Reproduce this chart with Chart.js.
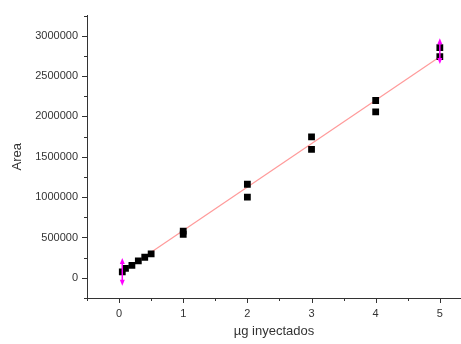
<!DOCTYPE html>
<html>
<head>
<meta charset="utf-8">
<script src="https://cdn.jsdelivr.net/npm/chart.js@4"></script>
<style>
  html, body { margin: 0; padding: 0; background: #fff; }
  #wrap { width: 461px; height: 344px; }
</style>
</head>
<body>
<div id="wrap"><canvas id="c" width="461" height="344"></canvas></div>
<script>
// Measured points (µg inyectados vs Area)
const xValues = [0.05, 0.1, 0.2, 0.3, 0.4, 0.5, 1, 1, 2, 2, 3, 3, 4, 4, 5, 5];
const yValues = [74000, 117000, 154000, 210000, 255000, 298000, 580000, 540000, 1160000, 1000000, 1747000, 1593000, 2198000, 2056000, 2852000, 2741000];

// Linear fit line endpoints
const fitX = [0.05, 5];
const fitY = [74000, 2741000];

// Error bars (magenta, arrow caps)
const errX = [0.05, 5];
const errY = [74000, 2810000];
const errD = [173000, 160000];

// Axis ticks
const xMajorTicks = [0, 1, 2, 3, 4, 5];
const yMajorTicks = [0, 500000, 1000000, 1500000, 2000000, 2500000, 3000000];

const axisColor = '#333333';
const textColor = '#333333';
const fontFamily = '"Liberation Sans", Arial, sans-serif';

const tickPlugin = {
  id: 'origTicks',
  afterDraw(chart) {
    const ctx = chart.ctx;
    const xs = chart.scales.x, ys = chart.scales.y;
    const area = chart.chartArea;
    ctx.save();
    ctx.strokeStyle = axisColor;
    ctx.lineWidth = 1;
    ctx.beginPath();
    for (let v = -0.5; v <= xs.max + 1e-9; v += 0.5) {
      const px = Math.round(xs.getPixelForValue(v)) + 0.5;
      if (px < area.left - 1 || px > area.right) continue;
      const major = Math.abs(v - Math.round(v)) < 1e-9;
      ctx.moveTo(px, area.bottom);
      ctx.lineTo(px, area.bottom + (major ? 5 : 3));
    }
    for (let v = -250000; v <= ys.max + 1; v += 250000) {
      const py = Math.round(ys.getPixelForValue(v)) + 0.5;
      if (py < area.top || py > area.bottom + 1) continue;
      const major = v % 500000 === 0;
      ctx.moveTo(area.left, py);
      ctx.lineTo(area.left - (major ? 5 : 3), py);
    }
    ctx.stroke();

    ctx.strokeStyle = '#ff00ff';
    ctx.fillStyle = '#ff00ff';
    ctx.lineWidth = 1.5;
    for (let i = 0; i < errX.length; i++) {
      const px = xs.getPixelForValue(errX[i]);
      const pTop = ys.getPixelForValue(errY[i] + errD[i]);
      const pBot = ys.getPixelForValue(errY[i] - errD[i]);
      ctx.beginPath();
      ctx.moveTo(px, pTop + 4);
      ctx.lineTo(px, pBot - 4);
      ctx.stroke();
      ctx.beginPath();
      ctx.moveTo(px, pTop);
      ctx.lineTo(px - 2.5, pTop + 6);
      ctx.lineTo(px + 2.5, pTop + 6);
      ctx.closePath();
      ctx.fill();
      ctx.beginPath();
      ctx.moveTo(px, pBot);
      ctx.lineTo(px - 2.5, pBot - 6);
      ctx.lineTo(px + 2.5, pBot - 6);
      ctx.closePath();
      ctx.fill();
    }
    ctx.restore();
  }
};

new Chart(document.getElementById('c'), {
  type: 'scatter',
  data: {
    datasets: [
      {
        type: 'line',
        data: fitX.map((x, i) => ({ x, y: fitY[i] })),
        borderColor: 'rgba(255, 120, 120, 0.75)',
        borderWidth: 1.2,
        pointRadius: 0,
        fill: false,
        order: 2
      },
      {
        data: xValues.map((x, i) => ({ x, y: yValues[i] })),
        pointStyle: 'rect',
        pointRadius: 4.8,
        pointHoverRadius: 4.8,
        backgroundColor: '#000000',
        borderColor: '#000000',
        borderWidth: 0,
        order: 1
      }
    ]
  },
  options: {
    responsive: false,
    animation: false,
    devicePixelRatio: 1,
    layout: { autoPadding: false, padding: { top: 15, right: 0, left: 0, bottom: 0 } },
    plugins: { legend: { display: false }, tooltip: { enabled: false } },
    scales: {
      x: {
        type: 'linear',
        min: -0.5,
        max: 5.33,
        afterBuildTicks(scale) { scale.ticks = xMajorTicks.map(v => ({ value: v })); },
        afterFit(scale) { scale.height = 46; },
        grid: { display: false, drawTicks: false },
        border: { display: true, color: axisColor, width: 1 },
        ticks: {
          padding: 9,
          color: textColor,
          font: { family: fontFamily, size: 11 },
          maxRotation: 0,
          callback: v => String(v)
        },
        title: {
          display: true,
          text: 'µg inyectados',
          color: textColor,
          font: { family: fontFamily, size: 13 },
          padding: { top: 0, bottom: 5 }
        }
      },
      y: {
        type: 'linear',
        min: -250000,
        max: 3250000,
        afterBuildTicks(scale) { scale.ticks = yMajorTicks.map(v => ({ value: v })); },
        afterFit(scale) { scale.width = 87; },
        grid: { display: false, drawTicks: false },
        border: { display: true, color: axisColor, width: 1 },
        ticks: {
          padding: 9,
          color: textColor,
          font: { family: fontFamily, size: 11 },
          callback: v => String(v)
        },
        title: {
          display: true,
          text: 'Area',
          color: textColor,
          font: { family: fontFamily, size: 13 },
          padding: { top: 10, bottom: 0 }
        }
      }
    }
  },
  plugins: [tickPlugin]
});
</script>
</body>
</html>
